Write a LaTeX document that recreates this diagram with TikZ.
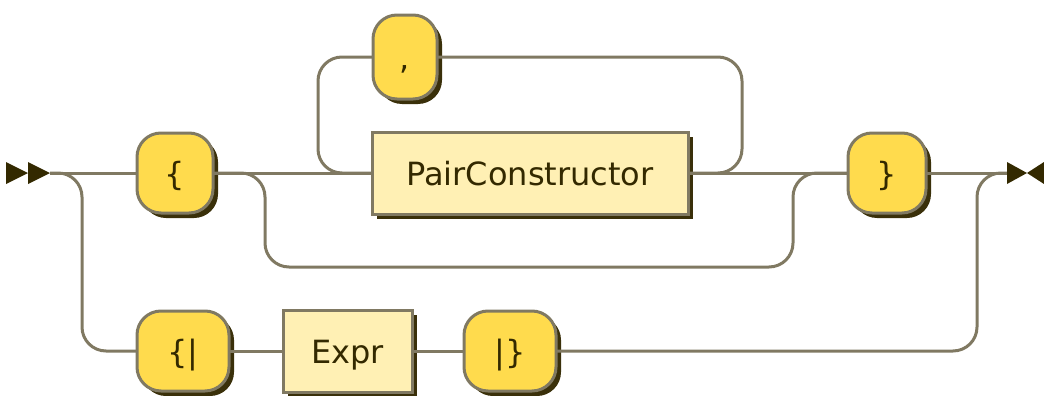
\documentclass[tikz,border=0pt]{standalone}
\usepackage{fontspec}
\setmainfont{DejaVu Sans}
\usepackage{tikz}
\usetikzlibrary{positioning}
\usetikzlibrary{shadows}
\definecolor{railline}{RGB}{128,121,98}
\definecolor{raildark}{RGB}{51,41,0}
\definecolor{termfill}{RGB}{255,219,77}
\definecolor{nontermfill}{RGB}{255,240,180}
\definecolor{shadowcol}{RGB}{58,48,10}

\begin{document}
\begin{tikzpicture}[x=0.5pt, y=-0.5pt,
        box/.style={draw=railline, line width=1.5pt, text=raildark, font=\fontsize{16}{19}\selectfont,
            text height=12pt, text depth=0pt, inner sep=0pt, outer sep=0pt,
            general shadow={fill=shadowcol, shadow xshift=2.5pt, shadow yshift=-2.5pt}},
        terminal/.style={box, fill=termfill, rounded corners=12pt, minimum height=40pt},
        nonterminal/.style={box, fill=nontermfill, minimum height=41pt},
        rail/.style={draw=railline, line width=1.5pt, rounded corners=12pt}]
    \useasboundingbox (0,0) rectangle (1044,396);
    \coordinate (start) at (50,173);
    \coordinate (finish) at (1007,173);
    \node[terminal, minimum width=38pt] (lbrace) at (175,173) {\{};
    \node[nonterminal, minimum width=158pt, right=79.5pt of lbrace] (pair_constructor) {PairConstructor};
    \node[terminal, minimum width=39pt, right=80pt of pair_constructor] (rbrace) {\}};
    \node[terminal, minimum width=32pt, minimum height=42pt] (comma) at (405,57) {,};
    \node[terminal, minimum width=46pt] (lbar_brace) at (183,351) {\{|};
    \node[nonterminal, minimum width=64.5pt, right=27pt of lbar_brace] (expr) {Expr};
    \node[terminal, minimum width=46pt, right=26pt of expr] (rbar_brace) {|\}};
    \draw[rail] (start) -- (lbrace);
    \draw[rail] (lbrace) -- (pair_constructor);
    \draw[rail] (pair_constructor) -- (rbrace);
    \draw[rail] (rbrace) -- (finish);
    \draw[rail] (start) -- (82,173) |- (lbar_brace);
    \draw[rail] (lbar_brace) -- (expr);
    \draw[rail] (expr) -- (rbar_brace);
    \draw[rail] (rbar_brace) -| (977,173) -- (finish);
    \draw[rail] (lbrace.east) -| (265,267) -| (793,173) -- (rbrace.west);
    \draw[rail] (pair_constructor.east) -- (742,173) |- (comma);
    \draw[rail] (comma) -| (318,173) -- (pair_constructor.west);
    \fill[raildark] (start) -- ++(-22,-11) -- ++(0,22) -- cycle;
    \fill[raildark] ([xshift=-11pt]start) -- ++(-22,-11) -- ++(0,22) -- cycle;
    \fill[raildark] (finish) -- ++(0,-11) -- ++(20,11) -- ++(-20,11) -- cycle;
    \fill[raildark] ([xshift=10pt]finish) -- ++(17,-11) -- ++(0,22) -- cycle;
\end{tikzpicture}
\end{document}
